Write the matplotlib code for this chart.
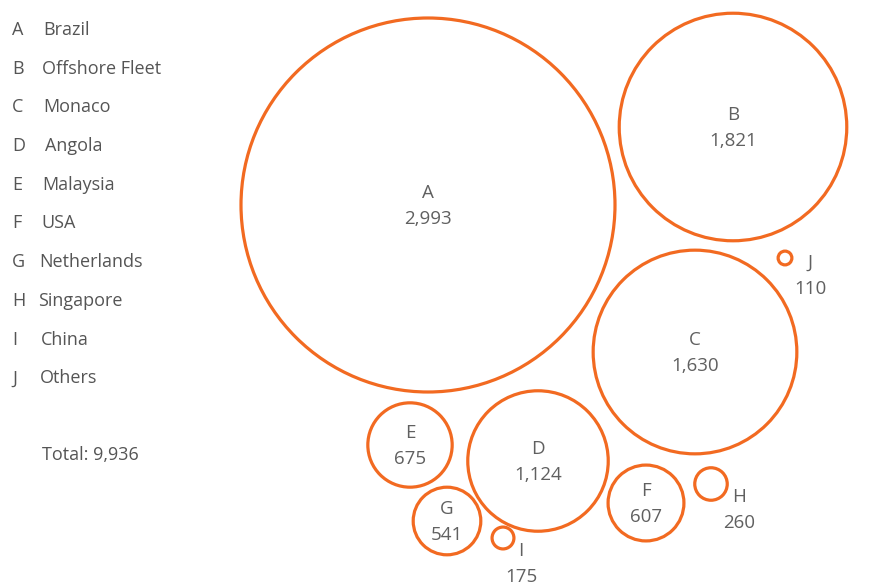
import matplotlib
matplotlib.use("Agg")
import matplotlib.pyplot as plt
from matplotlib.patches import Circle

plt.rcParams['font.family'] = ['Open Sans', 'DejaVu Sans']

# fleet count by flag
letters = ['A', 'B', 'C', 'D', 'E', 'F', 'G', 'H', 'I', 'J']
countries = ['Brazil', 'Offshore Fleet', 'Monaco', 'Angola', 'Malaysia',
             'USA', 'Netherlands', 'Singapore', 'China', 'Others']
values = [2993, 1821, 1630, 1124, 675, 607, 541, 260, 175, 110]
total = 9936

# packed layout (pixel space), radius scales linearly with value
centers = [(428, 205), (733, 127), (695, 352), (538, 461), (410, 445),
           (646, 503), (447, 521), (711, 484), (503, 538), (785, 258)]
px_per_unit = 187 / 2993
outside = {'H': (28, 4), 'I': (18, 4), 'J': (25, -4)}
name_x = [43, 42, 43, 45, 42, 41, 39, 38, 41, 40]

ORANGE = '#f26a21'
GRAY = '#606060'

fig = plt.figure(figsize=(8.75, 5.86), dpi=100)
ax = fig.add_axes([0, 0, 1, 1])
ax.set_xlim(0, 875)
ax.set_ylim(586, 0)
ax.set_aspect('equal')
ax.axis('off')

for let, val, (cx, cy) in zip(letters, values, centers):
    r = val * px_per_unit
    ax.add_patch(Circle((cx, cy), r, fill=False, ec=ORANGE, lw=2.3))
    label = f"{let}\n{val:,}"
    if let in outside:
        dx, dy = outside[let]
        ax.text(cx + dx, cy + dy, label, ha='center', va='top', fontsize=13.5,
                color=GRAY, linespacing=1.55)
    else:
        ax.text(cx, cy + 1, label, ha='center', va='center', fontsize=13.5,
                color=GRAY, linespacing=1.55)

# legend column
for i, (let, name) in enumerate(zip(letters, countries)):
    y = 30 + i * 38.7
    ax.text(12, y, let, ha='left', va='center', fontsize=13, color='#555555')
    ax.text(name_x[i], y, name, ha='left', va='center', fontsize=13, color='#555555')
ax.text(42, 455, f"Total: {total:,}", ha='left', va='center', fontsize=13, color='#555555')

fig.savefig('out.png', dpi=100)
